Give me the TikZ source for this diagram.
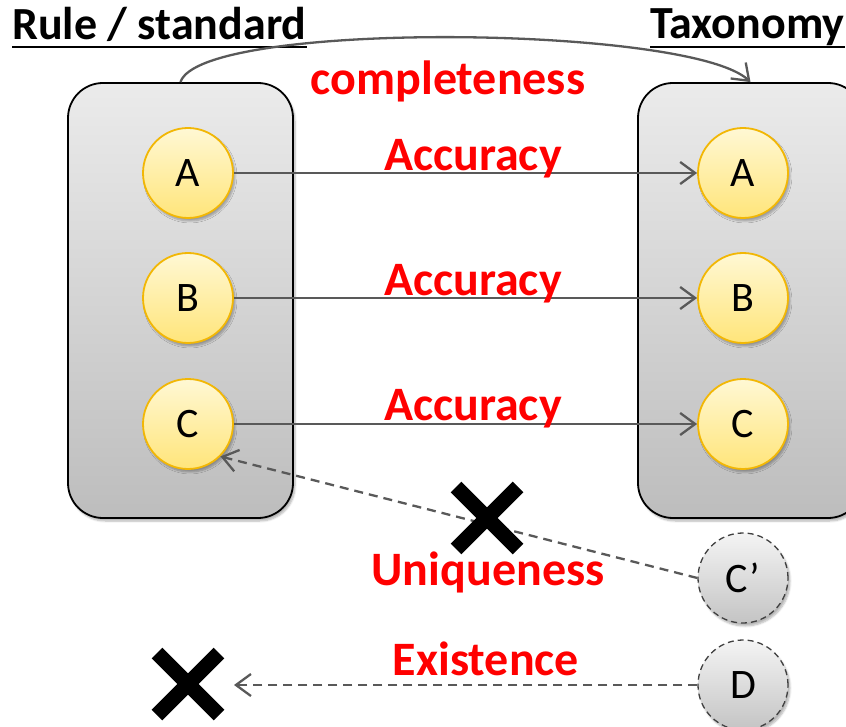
\documentclass[tikz,border=0pt]{standalone}
\usepackage{fontspec}
\setmainfont{Carlito}
\usetikzlibrary{arrows.meta,shadows.blur}

\definecolor{boxtop}{HTML}{EBEBEB}
\definecolor{boxbot}{HTML}{BDBDBD}
\definecolor{ctop}{HTML}{FFF8D4}
\definecolor{cbot}{HTML}{FFE57A}
\definecolor{cedge}{HTML}{F2B705}
\definecolor{linkgray}{HTML}{595959}
\definecolor{ghosttop}{HTML}{F4F4F4}
\definecolor{ghostbot}{HTML}{C4C4C4}

\tikzset{
  soft/.style={blur shadow={shadow xshift=2pt, shadow yshift=-3pt, shadow blur steps=6, shadow opacity=30}},
  panel/.style={rectangle, rounded corners=35pt, minimum width=225pt, minimum height=435pt,
    draw=black, line width=1.8pt, top color=boxtop, bottom color=boxbot, soft},
  item/.style={circle, minimum size=90pt, inner sep=0pt, draw=cedge, line width=1.8pt,
    top color=ctop, bottom color=cbot, font=\fontsize{42}{42}\selectfont, soft},
  ghost/.style={circle, minimum size=90pt, inner sep=0pt, draw=black!75, dash pattern=on 6pt off 4pt,
    line width=1.3pt, top color=ghosttop, bottom color=ghostbot, font=\fontsize{42}{42}\selectfont, soft},
  link/.style={draw=linkgray, line width=2.3pt, -{Straight Barb[length=15pt,width=22pt]}},
  dlink/.style={link, dash pattern=on 9pt off 6pt},
  lbl/.style={text=red, font=\fontsize{48}{48}\selectfont\bfseries, inner sep=0pt, anchor=base},
  heading/.style={font=\fontsize{46}{46}\selectfont\bfseries, inner sep=0pt, anchor=base west},
  nogo/.pic={\draw[line width=15pt] (-31,-31) -- (31,31) (-31,31) -- (31,-31);}
}

\begin{document}
\begin{tikzpicture}[x=1pt, y=-1pt]
  \clip (0,0) rectangle (846,727);

  % headings with underlines
  \node[heading] (t1) at (12,40) {Rule / standard};
  \node[heading] (t2) at (650,39) {Taxonomy};
  \draw[line width=2.5pt] ([yshift=-7pt]t1.base west) -- ([yshift=-7pt]t1.base east);
  \draw[line width=2.5pt] ([yshift=-8pt]t2.base west) -- ([yshift=-8pt]t2.base east);

  % the two panels
  \node[panel] (L) at (180.5,300.5) {};
  \node[panel] (R) at (750.5,300.5) {};

  % entries
  \node[item] (a1) at (188,173) {A};
  \node[item] (b1) at (188,298) {B};
  \node[item] (c1) at (188,424) {C};
  \node[item] (a2) at (743,173) {A};
  \node[item] (b2) at (743,298) {B};
  \node[item] (c2) at (743,424) {C};
  \node[ghost] (cp) at (743,578) {C’};
  \node[ghost] (d)  at (743,685) {D};
  \coordinate (void) at (234,685);

  % connectors
  \draw[link] (L.north) .. controls (200,20) and (690,25) .. (R.north);
  \draw[link] (a1) -- (a2);
  \draw[link] (b1) -- (b2);
  \draw[link] (c1) -- (c2);
  \draw[dlink] (cp.west) -- (c1.315);
  \draw[dlink] (d.west) -- (void);

  % labels
  \node[lbl] (lc) at (448,95) {completeness};
  \node[lbl] (la1) at (473,171) {Accuracy};
  \node[lbl] (la2) at (473,296) {Accuracy};
  \node[lbl] (la3) at (473,420) {Accuracy};
  \node[lbl] (lu) at (488,585) {Uniqueness};
  \node[lbl] (le) at (486,675) {Existence};

  % rejection marks
  \pic at (487,518) {nogo};
  \pic at (188,684) {nogo};
\end{tikzpicture}
\end{document}
